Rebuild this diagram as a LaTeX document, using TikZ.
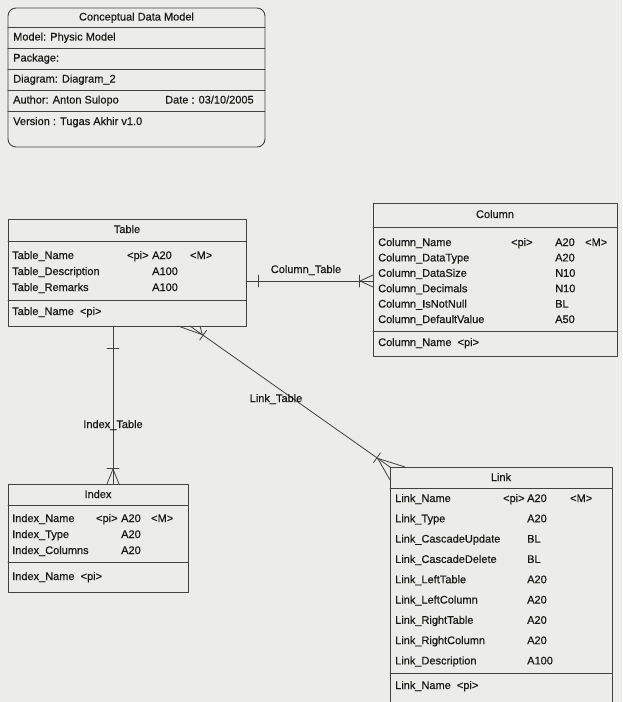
\documentclass[tikz,border=0pt]{standalone}
\usepackage{fontspec}
\setmainfont{Liberation Sans}[FakeBold=0.5]
\usetikzlibrary{calc}

\definecolor{paper}{RGB}{236,236,233}
\definecolor{ink}{RGB}{25,25,25}
\definecolor{rule}{RGB}{65,65,65}

\tikzset{
  box/.style={draw=rule, line width=0.9pt},
  rel/.style={draw=rule, line width=0.8pt},
  txt/.style={anchor=west, inner sep=0pt, text=ink, text height=8pt, text depth=2pt, font=\fontsize{11}{13}\selectfont},
  ttl/.style={txt, anchor=center},
}

% bar across the line #1--#2, at distance #3 from #2
\newcommand{\onebar}[3]{%
  \coordinate (q) at ($(#2)!#3!(#1)$);
  \draw[rel] ($(q)!6pt!90:(#2)$) -- ($(q)!6pt!-90:(#2)$);
}
% crow's foot at #2 (line from #1), vertex #3 from #2, toes at #4 and #5
\newcommand{\crowfoot}[5]{%
  \coordinate (v) at ($(#2)!#3!(#1)$);
  \draw[rel] (#4) -- (v) -- (#5);
}

\begin{document}
\begin{tikzpicture}[x=1pt, y=-1pt, line cap=round, line join=round]
  \fill[paper] (0,0) rectangle (622,702);
  \useasboundingbox (0,0) rectangle (622,702);

  % model info box
  \draw[box, rounded corners=8pt] (8,8) rectangle (265,147);
  \foreach \y in {27,48,69,90,111} {
    \draw[box] (8,\y) -- (265,\y);
  }
  \node[ttl] (info) at (136.5,17.5) {Conceptual Data Model};
  \node[txt] (info-1) at (13,37.5) {Model: Physic Model};
  \node[txt] (info-2) at (13,58.5) {Package:};
  \node[txt] (info-3) at (13,79.5) {Diagram: Diagram\_2};
  \node[txt] (info-4) at (13,100.5) {Author: Anton Sulopo};
  \node[txt] (info-5) at (165,100.5) {Date : 03/10/2005};
  \node[txt] (info-6) at (13,122) {Version : Tugas Akhir v1.0};

  % entity Table
  \draw[box] (8,219) rectangle (246,326);
  \draw[box] (8,241) -- (246,241);
  \draw[box] (8,300) -- (246,300);
  \node[ttl] (table) at (127,230) {Table};
  \foreach \n/\t [count=\i] in {Table\_Name/A20, Table\_Description/A100, Table\_Remarks/A100} {
    \node[txt] (tbl-n\i) at (12,240+16*\i) {\n};
    \node[txt] (tbl-t\i) at (152,240+16*\i) {\t};
  }
  \node[txt] (tbl-pi) at (127,256) {<pi>};
  \node[txt] (tbl-m) at (190,256) {<M>};
  \node[txt] (tbl-key) at (12,312) {Table\_Name \ <pi>};

  % entity Column
  \draw[box] (373,203) rectangle (617,356);
  \draw[box] (373,227) -- (617,227);
  \draw[box] (373,331) -- (617,331);
  \node[ttl] (column) at (495,215) {Column};
  \foreach \n/\t [count=\i] in {Column\_Name/A20, Column\_DataType/A20, Column\_DataSize/N10,
      Column\_Decimals/N10, Column\_IsNotNull/BL, Column\_DefaultValue/A50} {
    \node[txt] (col-n\i) at (378,227.6+15.4*\i) {\n};
    \node[txt] (col-t\i) at (555,227.6+15.4*\i) {\t};
  }
  \node[txt] (col-pi) at (511,243) {<pi>};
  \node[txt] (col-m) at (585,243) {<M>};
  \node[txt] (col-key) at (378,343) {Column\_Name \ <pi>};

  % entity Index
  \draw[box] (8,484) rectangle (188,592);
  \draw[box] (8,505) -- (188,505);
  \draw[box] (8,562) -- (188,562);
  \node[ttl] (index) at (98,495) {Index};
  \foreach \n/\t [count=\i] in {Index\_Name/A20, Index\_Type/A20, Index\_Columns/A20} {
    \node[txt] (idx-n\i) at (12,503+16*\i) {\n};
    \node[txt] (idx-t\i) at (121,503+16*\i) {\t};
  }
  \node[txt] (idx-pi) at (96,519) {<pi>};
  \node[txt] (idx-m) at (151,519) {<M>};
  \node[txt] (idx-key) at (12,577) {Index\_Name \ <pi>};

  % entity Link
  \draw[box] (390,467) -- (390,702) (390,467) -- (612,467) -- (612,702);
  \draw[box] (390,488) -- (612,488);
  \draw[box] (390,673) -- (612,673);
  \node[ttl] (link) at (501,478) {Link};
  \foreach \n/\t [count=\i] in {Link\_Name/A20, Link\_Type/A20, Link\_CascadeUpdate/BL,
      Link\_CascadeDelete/BL, Link\_LeftTable/A20, Link\_LeftColumn/A20,
      Link\_RightTable/A20, Link\_RightColumn/A20, Link\_Description/A100} {
    \node[txt] (lnk-n\i) at (395,478.7+20.3*\i) {\n};
    \node[txt] (lnk-t\i) at (527,478.7+20.3*\i) {\t};
  }
  \node[txt] (lnk-pi) at (503,499) {<pi>};
  \node[txt] (lnk-m) at (570,499) {<M>};
  \node[txt] (lnk-key) at (395,686) {Link\_Name \ <pi>};

  % Column_Table
  \coordinate (ct-a) at (246,281);
  \coordinate (ct-b) at (373,281);
  \draw[rel] (ct-a) -- (ct-b);
  \onebar{ct-b}{ct-a}{12pt}
  \onebar{ct-a}{ct-b}{14pt}
  \crowfoot{ct-a}{ct-b}{13pt}{373,275}{373,287}
  \node[ttl] (ct-lbl) at (306,270) {Column\_Table};

  % Index_Table
  \coordinate (it-a) at (113,326);
  \coordinate (it-b) at (113,484);
  \draw[rel] (it-a) -- (it-b);
  \onebar{it-b}{it-a}{22pt}
  \onebar{it-a}{it-b}{16pt}
  \crowfoot{it-a}{it-b}{15pt}{107,484}{119,484}
  \node[ttl] (it-lbl) at (113,425) {Index\_Table};

  % Link_Table
  \coordinate (lt-a) at (190,326);
  \coordinate (lt-b) at (390,467);
  \draw[rel] (lt-a) -- (lt-b);
  \onebar{lt-b}{lt-a}{16pt}
  \crowfoot{lt-b}{lt-a}{15pt}{178,326}{200,326}
  \onebar{lt-a}{lt-b}{16pt}
  \crowfoot{lt-a}{lt-b}{15pt}{405,467}{390,480}
  \node[ttl] (lt-lbl) at (276,399) {Link\_Table};
\end{tikzpicture}
\end{document}
